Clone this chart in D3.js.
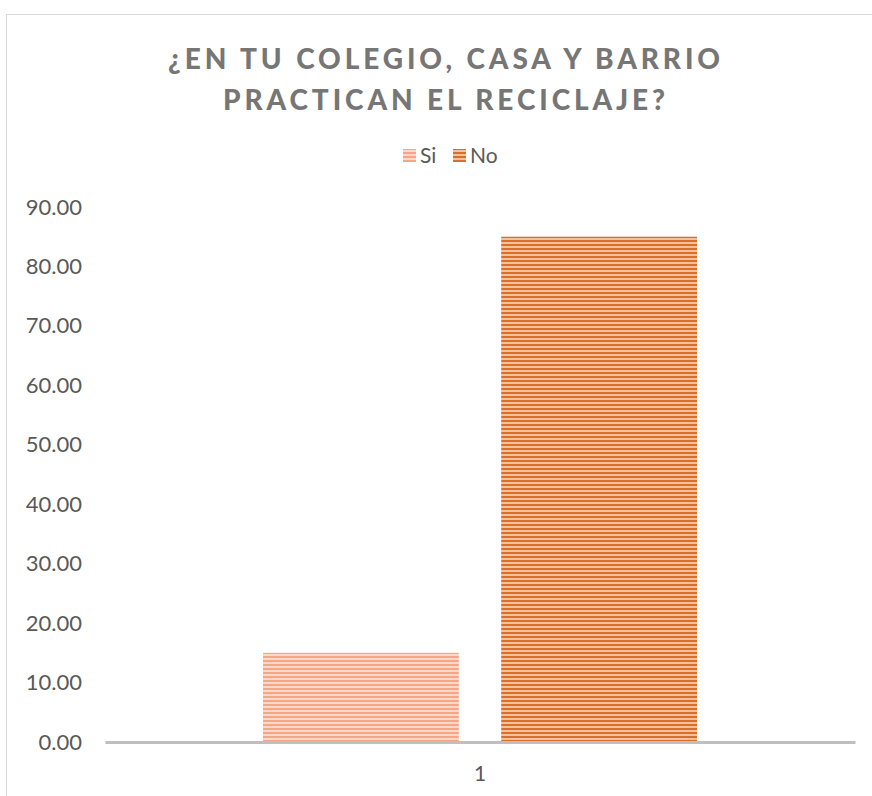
<!DOCTYPE html>
<html><head><meta charset="utf-8">
<script src="https://cdn.jsdelivr.net/npm/d3@7"></script>
<style>body{margin:0;background:#fff}svg{display:block}</style>
</head><body>
<svg id="c" width="872" height="796"></svg>
<script>
const categories = ["1"];
const seriesNames = ["Si", "No"];
const siValues = [15];
const noValues = [85];
const yTicks = [0, 10, 20, 30, 40, 50, 60, 70, 80, 90];
const titleLines = ["¿EN TU COLEGIO, CASA Y BARRIO", "PRACTICAN EL RECICLAJE?"];

const svg = d3.select("#c");
const font = "Lato, 'Open Sans', sans-serif";

// frame
svg.append("rect").attr("x", 6.5).attr("y", 14.5).attr("width", 880).attr("height", 800)
  .attr("fill", "#fff").attr("stroke", "#d9d9d9").attr("stroke-width", 1);

// patterns
const defs = svg.append("defs");
function pat(id, dark, light) {
  const p = defs.append("pattern").attr("id", id).attr("patternUnits", "userSpaceOnUse")
    .attr("width", 8).attr("height", 4);
  p.append("rect").attr("width", 8).attr("height", 4).attr("fill", light);
  p.append("rect").attr("width", 8).attr("height", 2).attr("fill", dark);
}
pat("pSi", "#f4a686", "#fbd8c8");
pat("pNo", "#d8702c", "#f2c19d");
const fills = {Si: "url(#pSi)", No: "url(#pNo)"};

// title
svg.append("text").attr("text-anchor", "middle").attr("fill", "#767676")
  .attr("font-family", font).attr("font-weight", "900").attr("font-size", 28)
  .attr("letter-spacing", 3.9)
  .selectAll("tspan").data(titleLines).join("tspan")
  .attr("x", 446).attr("y", (d, i) => 69 + i * 41).text(d => d);

// scales
const x0 = d3.scaleBand().domain(categories).range([105, 855]);
const x1 = d3.scaleBand().domain(seriesNames).range([158, 592]).paddingInner(0.178);
const y = d3.scaleLinear().domain([0, 90]).range([742, 207]);

// y axis labels
const yAxis = d3.axisLeft(y).tickValues(yTicks).tickFormat(d3.format(".2f")).tickSize(0).tickPadding(0);
const ya = svg.append("g").attr("transform", "translate(82,0)").call(yAxis);
ya.select(".domain").remove();
ya.selectAll("text").attr("font-family", font).attr("font-size", 22).attr("fill", "#595959");

// bars
const data = categories.map((c, i) => ({c, vals: [{k: "Si", v: siValues[i]}, {k: "No", v: noValues[i]}]}));
const g = svg.append("g");
data.forEach(d => {
  g.selectAll(null).data(d.vals).join("rect")
    .attr("x", e => x0(d.c) + x1(e.k))
    .attr("width", x1.bandwidth())
    .attr("y", e => y(e.v))
    .attr("height", e => y(0) - y(e.v))
    .attr("fill", e => fills[e.k]);
});

// x axis
const xAxis = d3.axisBottom(x0).tickSize(0).tickPadding(24);
const xa = svg.append("g").attr("transform", `translate(0,${y(0)})`).call(xAxis);
xa.select(".domain").attr("stroke", "#bfbfbf").attr("stroke-width", 3);
xa.selectAll("text").attr("font-family", font).attr("font-size", 21).attr("fill", "#595959");

// legend
const leg = svg.append("g");
const legItems = [{k: "Si", x: 403}, {k: "No", x: 453}];
legItems.forEach(it => {
  leg.append("rect").attr("x", it.x).attr("y", 149).attr("width", 13).attr("height", 13).attr("fill", fills[it.k]);
  leg.append("text").attr("x", it.x + 17).attr("y", 163).attr("font-family", font).attr("font-size", 21)
    .attr("fill", "#595959").text(it.k);
});
</script>
</body></html>
